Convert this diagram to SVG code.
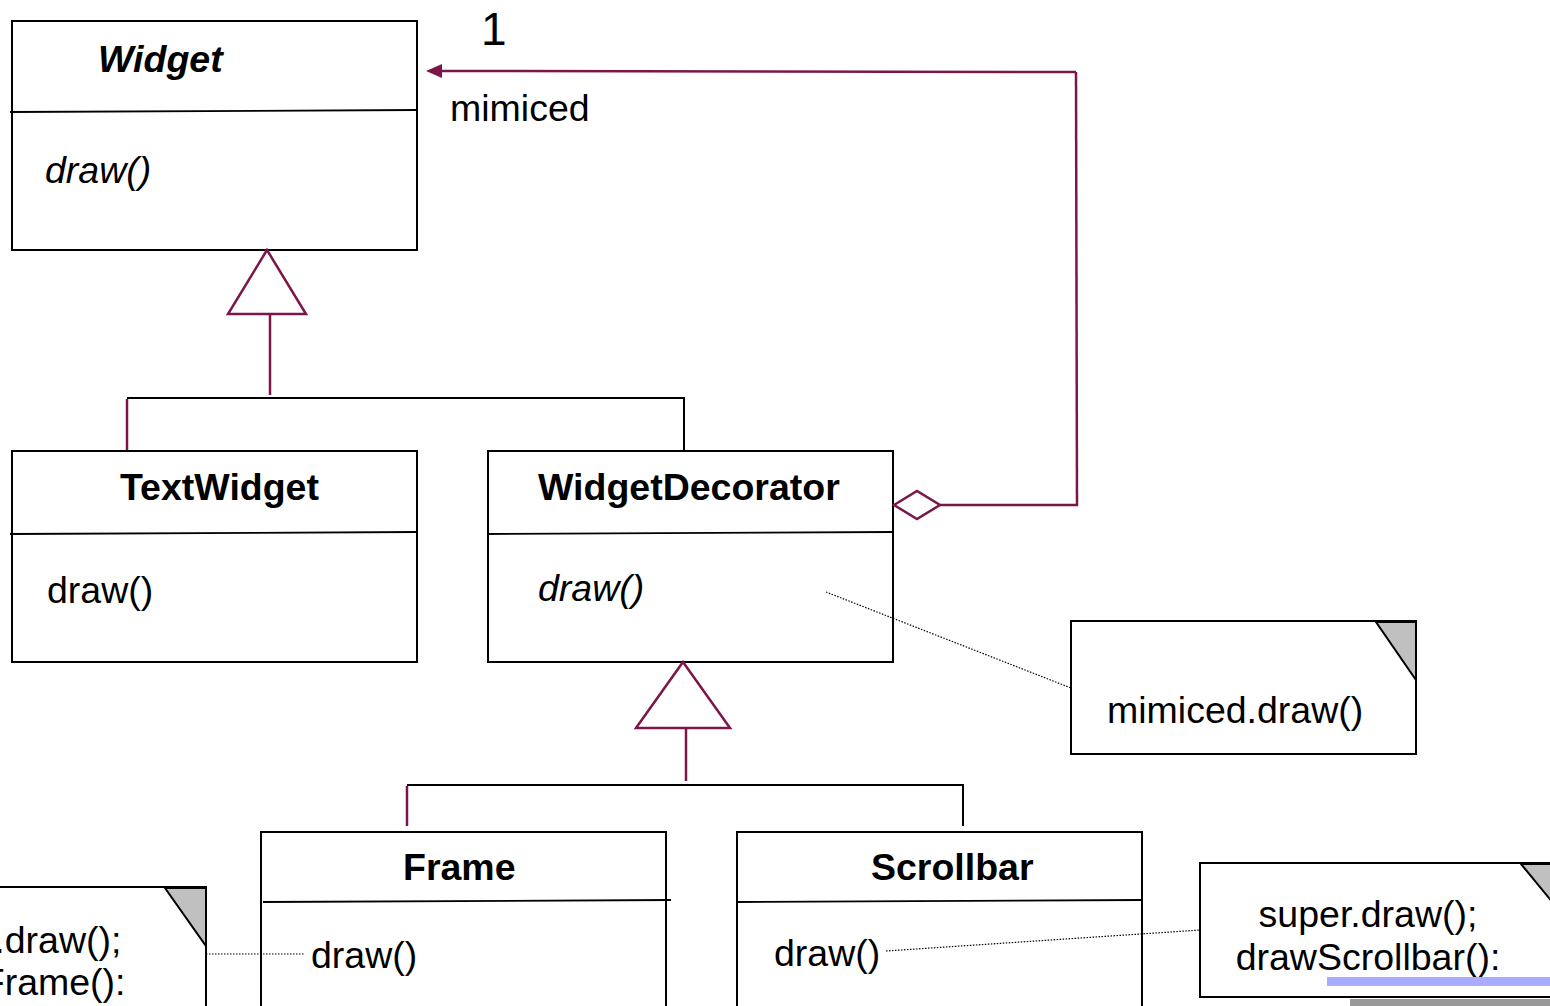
<svg xmlns="http://www.w3.org/2000/svg" width="1550" height="1006" viewBox="0 0 1550 1006">
<defs>
<style>
.box{fill:#fff;stroke:#000;stroke-width:2}
.div{stroke:#000;stroke-width:1.8;fill:none}
.t{font-family:"Liberation Sans",Arial,sans-serif;font-size:37.5px;fill:#000}
.b{font-weight:bold}
.i{font-style:italic}
.m{stroke:#7c1648;stroke-width:2.5;fill:none}
.k{stroke:#000;stroke-width:2;fill:none}
.dot{stroke:#000;stroke-width:1.2;stroke-dasharray:1.5 1.5;fill:none}
.fold{fill:#c0c0c0;stroke:#000;stroke-width:2}
</style>
</defs>
<rect width="1550" height="1006" fill="#fff"/>

<g id="Widget">
<rect class="box" x="12" y="21" width="405" height="229"/>
<path class="div" d="M10,112 L417,110"/>
<text class="t b i" x="98" y="72">Widget</text>
<text class="t i" x="45" y="183">draw()</text>
</g>

<g id="TextWidget">
<rect class="box" x="12" y="451" width="405" height="211"/>
<path class="div" d="M10,534 L417,532"/>
<text class="t b" x="120" y="500">TextWidget</text>
<text class="t" x="47" y="603">draw()</text>
</g>

<g id="WidgetDecorator">
<rect class="box" x="488" y="451" width="405" height="211"/>
<path class="div" d="M487,534 L893,532"/>
<text class="t b" x="538" y="500">WidgetDecorator</text>
<text class="t i" x="538" y="601">draw()</text>
</g>

<g id="NoteMimiced">
<rect class="box" x="1071" y="621" width="345" height="133"/>
<path class="fold" d="M1376,622 L1416,622 L1416,680 Z"/>
<text class="t" x="1107" y="723">mimiced.draw()</text>
</g>

<g id="Frame">
<rect class="box" x="261" y="832" width="405" height="200"/>
<path class="div" d="M263,902 L671,900"/>
<text class="t b" x="403" y="880">Frame</text>
<text class="t" x="311" y="968">draw()</text>
</g>

<g id="Scrollbar">
<rect class="box" x="737" y="832" width="405" height="200"/>
<path class="div" d="M737,902 L1142,900"/>
<text class="t b" x="871" y="880">Scrollbar</text>
<text class="t" x="774" y="966">draw()</text>
</g>

<g id="NoteFrame">
<rect class="box" x="-200" y="887" width="406" height="160"/>
<path class="fold" d="M165,888 L206,888 L206,946 Z"/>
<text class="t" x="12" y="953" text-anchor="middle">super.draw();</text>
<text class="t" x="13" y="995" text-anchor="middle">drawFrame():</text>
</g>

<g id="NoteScrollbar">
<rect class="box" x="1200" y="863" width="400" height="134"/>
<path class="fold" d="M1521,864 L1600,864 L1600,960 Z"/>
<text class="t" x="1368" y="927" text-anchor="middle">super.draw();</text>
<text class="t" x="1368" y="970" text-anchor="middle">drawScrollbar():</text>
<rect x="1327" y="977" width="223" height="9" fill="#aaaaff"/>
<rect x="1350" y="999" width="200" height="7" fill="#999"/>
</g>

<g id="connectors">
<path class="m" d="M1076,72 L438,71"/>
<path d="M426,71 L442,64 L442,78 Z" fill="#7c1648"/>
<path class="m" d="M1076,72 L1077,506"/>
<path class="m" d="M940,505 L1078,505"/>
<path class="m" d="M894,505 L917,491 L940,505 L917,519 Z" fill="#fff"/>
<path class="m" d="M267,250 L306,314 L228,314 Z" fill="#fff"/>
<path class="m" d="M270,314 L270,395"/>
<path class="k" d="M127,398 L684,398 L684,450"/>
<path class="m" d="M127,399 L127,450"/>
<path class="m" d="M683,662 L730,728 L636,728 Z" fill="#fff"/>
<path class="m" d="M686,728 L686,781"/>
<path class="k" d="M407,785 L963,785 L963,826"/>
<path class="m" d="M407,786 L407,826"/>
<path class="dot" d="M826,592 L1071,688"/>
<path class="dot" d="M886,951 L1200,930"/>
<path class="dot" d="M206,954 L304,954"/>
<text class="t" x="481" y="45" style="font-size:46px">1</text>
<text class="t" x="450" y="121">mimiced</text>
</g>
</svg>
